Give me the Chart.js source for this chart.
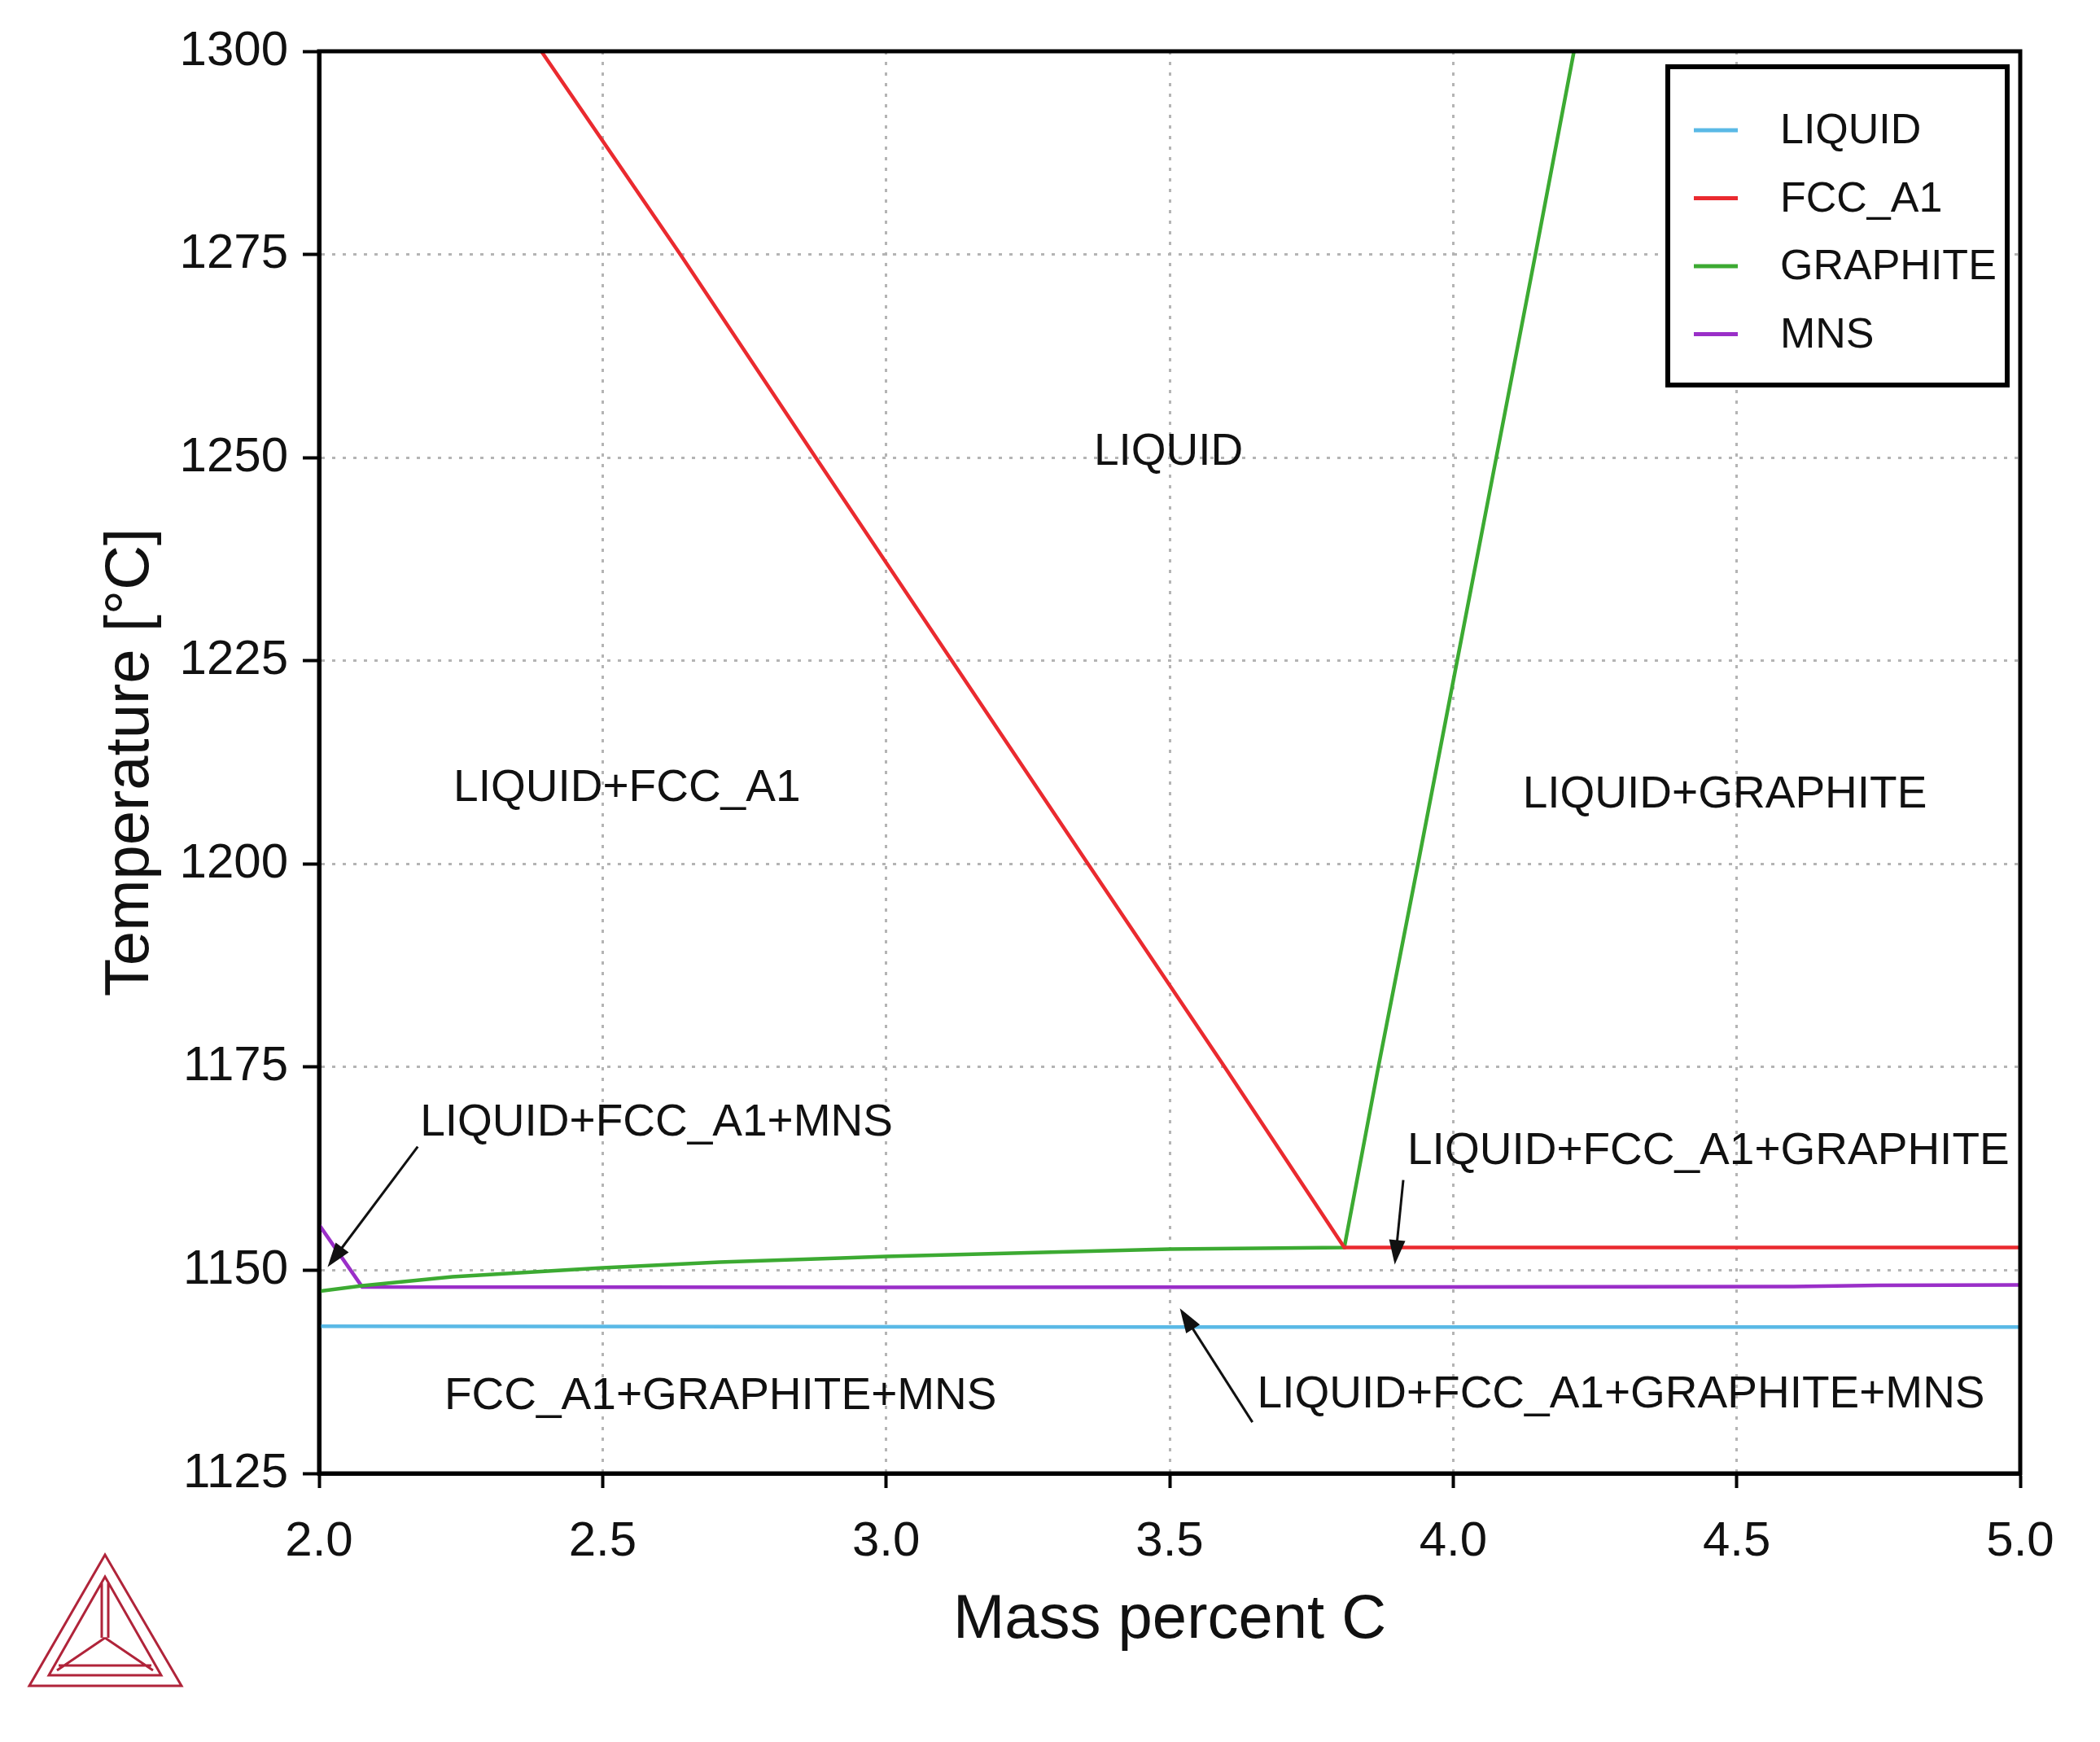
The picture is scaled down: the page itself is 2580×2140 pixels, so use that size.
<!DOCTYPE html>
<html>
<head>
<meta charset="utf-8">
<script src="https://cdn.jsdelivr.net/npm/chart.js@4.4.1/dist/chart.umd.min.js"></script>
<style>
  html, body { margin: 0; padding: 0; background: #fff; }
  canvas { display: block; }
</style>
</head>
<body>
<canvas id="diagram" width="2580" height="2140"></canvas>
<script>
// phase boundaries (mass percent C, temperature in °C)
const liquidX = [2.0, 3.5, 5.0];
const liquidY = [1143.1, 1143.0, 1143.0];

const fccX = [2.392, 2.637, 2.876, 3.116, 3.356, 3.597, 3.808, 4.5, 5.0];
const fccY = [1300, 1275, 1250, 1225, 1200, 1175, 1152.8, 1152.8, 1152.8];

const graphiteX = [2.0, 2.076, 2.235, 2.5, 2.706, 2.92, 3.0, 3.5, 3.808, 3.868, 3.938, 4.007, 4.076, 4.145, 4.213];
const graphiteY = [1147.4, 1148.1, 1149.2, 1150.3, 1151.0, 1151.5, 1151.7, 1152.6, 1152.8, 1175, 1200, 1225, 1250, 1275, 1300];

const mnsX = [2.0, 2.076, 3.0, 4.0, 4.6, 4.75, 5.0];
const mnsY = [1155.6, 1147.95, 1147.9, 1147.95, 1148.0, 1148.15, 1148.2];

const xTicks = [2.0, 2.5, 3.0, 3.5, 4.0, 4.5, 5.0];
const yTicks = [1125, 1150, 1175, 1200, 1225, 1250, 1275, 1300];

// phase field labels (centre of text in data units)
const regionNames = ['LIQUID', 'LIQUID+FCC_A1', 'LIQUID+GRAPHITE', 'LIQUID+FCC_A1+MNS',
  'LIQUID+FCC_A1+GRAPHITE', 'FCC_A1+GRAPHITE+MNS', 'LIQUID+FCC_A1+GRAPHITE+MNS'];
const regionX = [3.498, 2.543, 4.479, 2.595, 4.45, 2.708, 4.296];
const regionY = [1250.6, 1209.3, 1208.5, 1168.1, 1164.6, 1134.4, 1134.6];

// arrows from a label to a narrow field
const arrowFromX = [2.174, 3.912, 3.646];
const arrowFromY = [1165.2, 1161.1, 1131.3];
const arrowToX = [2.015, 3.897, 3.518];
const arrowToY = [1150.4, 1150.7, 1145.3];

const FONT = '"Liberation Sans", Arial, Helvetica, sans-serif';

function pts(xs, ys) {
    return xs.map((v, i) => ({ x: v, y: ys[i] }));
}

function arrow(ctx, x1, y1, x2, y2) {
    const ang = Math.atan2(y2 - y1, x2 - x1);
    const len = 30, half = 10;
    ctx.beginPath();
    ctx.moveTo(x1, y1);
    ctx.lineTo(x2 - Math.cos(ang) * len * 0.8, y2 - Math.sin(ang) * len * 0.8);
    ctx.stroke();
    ctx.beginPath();
    ctx.moveTo(x2, y2);
    ctx.lineTo(x2 - Math.cos(ang) * len - Math.sin(ang) * half, y2 - Math.sin(ang) * len + Math.cos(ang) * half);
    ctx.lineTo(x2 - Math.cos(ang) * len + Math.sin(ang) * half, y2 - Math.sin(ang) * len - Math.cos(ang) * half);
    ctx.closePath();
    ctx.fill();
}

// frame, field labels, arrows, legend box and logo
const overlay = {
    id: 'overlay',
    afterDatasetsDraw(chart) {
        const { ctx, chartArea: a } = chart;
        const sx = chart.scales.x, sy = chart.scales.y;
        ctx.save();

        ctx.strokeStyle = '#000';
        ctx.lineWidth = 5;
        ctx.strokeRect(a.left, a.top, a.right - a.left, a.bottom - a.top);

        ctx.fillStyle = '#111';
        ctx.font = '55px ' + FONT;
        ctx.textAlign = 'center';
        ctx.textBaseline = 'middle';
        regionNames.forEach((t, i) => {
            ctx.fillText(t, sx.getPixelForValue(regionX[i]), sy.getPixelForValue(regionY[i]));
        });

        ctx.strokeStyle = '#111';
        ctx.lineWidth = 3;
        arrowFromX.forEach((v, i) => {
            arrow(ctx, sx.getPixelForValue(v), sy.getPixelForValue(arrowFromY[i]),
                sx.getPixelForValue(arrowToX[i]), sy.getPixelForValue(arrowToY[i]));
        });

        // legend
        const bx = a.right - 433, by = a.top + 19;
        ctx.fillStyle = '#fff';
        ctx.fillRect(bx, by, 417, 391);
        ctx.strokeStyle = '#000';
        ctx.lineWidth = 6;
        ctx.strokeRect(bx, by, 417, 391);
        ctx.font = '52px ' + FONT;
        ctx.textAlign = 'left';
        chart.data.datasets.forEach((ds, i) => {
            const ry = a.top + 97 + i * 83.5;
            ctx.strokeStyle = ds.borderColor;
            ctx.lineWidth = 5;
            ctx.beginPath();
            ctx.moveTo(a.right - 401, ry);
            ctx.lineTo(a.right - 347, ry);
            ctx.stroke();
            ctx.fillStyle = '#111';
            ctx.fillText(ds.label, a.right - 295, ry + 2);
        });
        ctx.restore();
    },
    afterDraw(chart) {
        const ctx = chart.ctx;
        ctx.save();
        ctx.strokeStyle = '#b0243a';
        ctx.lineWidth = 3;
        ctx.lineJoin = 'miter';
        ctx.beginPath();
        ctx.moveTo(129, 1910); ctx.lineTo(36, 2071); ctx.lineTo(223, 2071); ctx.closePath();
        ctx.moveTo(129, 1937); ctx.lineTo(60, 2058); ctx.lineTo(198, 2058); ctx.closePath();
        ctx.moveTo(125, 1945); ctx.lineTo(125, 2012);
        ctx.moveTo(133, 1945); ctx.lineTo(133, 2012);
        ctx.moveTo(129, 2012); ctx.lineTo(70, 2052);
        ctx.moveTo(129, 2012); ctx.lineTo(188, 2052);
        ctx.moveTo(72, 2046); ctx.lineTo(186, 2046);
        ctx.stroke();
        ctx.restore();
    }
};

const tickFont = { family: FONT, size: 60 };
const titleFont = { family: FONT, size: 76 };

new Chart(document.getElementById('diagram').getContext('2d'), {
    type: 'line',
    data: {
        datasets: [
            { label: 'LIQUID', data: pts(liquidX, liquidY), borderColor: '#5ab9e6' },
            { label: 'FCC_A1', data: pts(fccX, fccY), borderColor: '#ea2a2f' },
            { label: 'GRAPHITE', data: pts(graphiteX, graphiteY), borderColor: '#3caa32' },
            { label: 'MNS', data: pts(mnsX, mnsY), borderColor: '#9a2fc8' }
        ]
    },
    options: {
        responsive: false,
        animation: false,
        devicePixelRatio: 1,
        layout: { padding: { top: 63, right: 98, left: 0, bottom: 0 } },
        elements: {
            point: { radius: 0 },
            line: { borderWidth: 4.5, tension: 0, fill: false }
        },
        plugins: {
            legend: { display: false },
            tooltip: { enabled: false }
        },
        scales: {
            x: {
                type: 'linear',
                min: 2,
                max: 5,
                afterBuildTicks: s => { s.ticks = xTicks.map(v => ({ value: v })); },
                afterFit: s => { s.height = 330; },
                ticks: {
                    font: tickFont,
                    color: '#111',
                    padding: 30,
                    maxRotation: 0,
                    callback: v => Number(v).toFixed(1)
                },
                grid: {
                    color: '#b4b4b4',
                    lineWidth: 3,
                    tickColor: '#000',
                    tickWidth: 4,
                    tickLength: 18,
                    tickBorderDash: []
                },
                border: { color: '#000', width: 5, dash: [4, 9] },
                title: {
                    display: true,
                    text: 'Mass percent C',
                    font: titleFont,
                    color: '#111',
                    padding: { top: 0, bottom: 103 }
                }
            },
            y: {
                min: 1125,
                max: 1300,
                afterBuildTicks: s => { s.ticks = yTicks.map(v => ({ value: v })); },
                afterFit: s => { s.width = 392; },
                ticks: {
                    font: tickFont,
                    color: '#111',
                    padding: 18,
                    callback: v => String(v)
                },
                grid: {
                    color: '#b4b4b4',
                    lineWidth: 3,
                    tickColor: '#000',
                    tickWidth: 4,
                    tickLength: 20,
                    tickBorderDash: []
                },
                border: { color: '#000', width: 5, dash: [4, 9] },
                title: {
                    display: true,
                    text: 'Temperature [°C]',
                    font: titleFont,
                    color: '#111',
                    padding: { top: 115, bottom: 0 }
                }
            }
        }
    },
    plugins: [overlay]
});
</script>
</body>
</html>
